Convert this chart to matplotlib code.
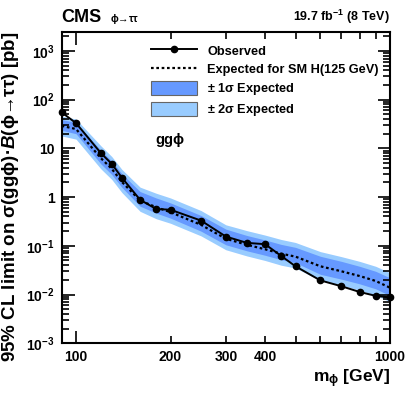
import matplotlib
matplotlib.use('Agg')
import matplotlib.pyplot as plt
from matplotlib.ticker import FixedLocator, FixedFormatter, LogLocator, NullFormatter
from matplotlib.patches import Patch
from matplotlib.lines import Line2D

plt.rcParams['font.family'] = ['Liberation Sans', 'DejaVu Sans']
plt.rcParams['font.weight'] = 'bold'
plt.rcParams['mathtext.fontset'] = 'custom'
plt.rcParams['mathtext.rm'] = 'Liberation Sans:bold'
plt.rcParams['mathtext.bf'] = 'Liberation Sans:bold'
plt.rcParams['mathtext.sf'] = 'Liberation Sans'
plt.rcParams['mathtext.it'] = 'Liberation Sans:italic'
plt.rcParams['mathtext.fallback'] = 'stixsans'

# mass points [GeV]
mass = [90, 100, 120, 130, 140, 160, 180, 200, 250, 300, 350, 400, 450, 500, 600, 700, 800, 900, 1000]
# observed limit [pb]
observed = [55, 33, 8.0, 4.8, 2.5, 0.88, 0.57, 0.55, 0.33, 0.155, 0.115, 0.108, 0.062, 0.038, 0.0195, 0.0148, 0.0113, 0.0094, 0.0087]
# expected median and bands [pb]
expected = [29, 25, 6.3, 3.8, 2.05, 0.85, 0.62, 0.49, 0.27, 0.14, 0.105, 0.085, 0.069, 0.060, 0.038, 0.030, 0.024, 0.019, 0.0138]
exp_p1 = [39, 34, 9.1, 5.5, 3.0, 1.3, 0.96, 0.76, 0.42, 0.22, 0.163, 0.132, 0.107, 0.093, 0.061, 0.048, 0.038, 0.030, 0.022]
exp_m1 = [23.5, 20, 4.8, 2.9, 1.58, 0.65, 0.47, 0.37, 0.20, 0.105, 0.079, 0.064, 0.052, 0.045, 0.026, 0.0207, 0.0166, 0.0131, 0.0095]
exp_p2 = [46, 40, 11.3, 6.8, 3.7, 1.6, 1.2, 0.96, 0.53, 0.27, 0.205, 0.166, 0.135, 0.117, 0.076, 0.060, 0.048, 0.038, 0.028]
exp_m2 = [18, 15.5, 3.8, 2.3, 1.24, 0.51, 0.36, 0.29, 0.16, 0.083, 0.062, 0.050, 0.040, 0.035, 0.0195, 0.0154, 0.0123, 0.0097, 0.0071]

dark = '#6699ff'
light = '#99ccff'

fig = plt.figure(figsize=(4.11, 3.95), dpi=100)
ax = fig.add_axes([0.150, 0.131, 0.799, 0.788])

ax.fill_between(mass, exp_m2, exp_p2, color=light, lw=0)
ax.fill_between(mass, exp_m1, exp_p1, color=dark, lw=0)
ax.plot(mass, expected, color='black', ls=(0, (1.2, 1.2)), lw=1.6)
ax.plot(mass, observed, color='black', lw=1.4, marker='o', ms=4.5, clip_on=False, zorder=5)

ax.set_xscale('log')
ax.set_yscale('log')
ax.set_xlim(90, 1000)
ax.set_ylim(1e-3, 2450)

ax.xaxis.set_major_locator(FixedLocator([100, 1000]))
ax.xaxis.set_major_formatter(FixedFormatter(['100', '1000']))
ax.xaxis.set_minor_locator(FixedLocator([200, 300, 400, 500, 600, 700, 800, 900]))
ax.xaxis.set_minor_formatter(FixedFormatter(['200', '300', '400', '', '', '', '', '']))

ax.yaxis.set_major_locator(FixedLocator([1e-3, 1e-2, 1e-1, 1, 10, 100, 1000]))
ax.yaxis.set_major_formatter(FixedFormatter([r'$10^{-3}$', r'$10^{-2}$', r'$10^{-1}$', '1', '10', r'$10^{2}$', r'$10^{3}$']))
ax.yaxis.set_minor_locator(LogLocator(base=10, subs=range(2, 10), numticks=20))
ax.yaxis.set_minor_formatter(NullFormatter())

ax.tick_params(which='both', direction='in', top=True, right=True, labelsize=10, width=1.2)
ax.tick_params(which='major', length=9, pad=5)
ax.tick_params(which='minor', length=5, pad=5)
for s in ax.spines.values():
    s.set_linewidth(1.5)

ax.set_xlabel(r'm$_{\mathsf{ϕ}}$ [GeV]', fontsize=12.5, fontweight='bold', loc='right', labelpad=2)
ax.set_ylabel(r'95% CL limit on $\mathsf{σ(ggϕ)·}\mathit{B}\mathsf{(ϕ→ττ)}$ [pb]',
              fontsize=13.5, fontweight='bold', loc='top', labelpad=4)

fig.text(0.150, 0.935, 'CMS', fontsize=13, fontweight='bold', ha='left', va='bottom')
fig.text(0.268, 0.935, r'$\mathsf{ϕ→ττ}$', fontsize=7.5, ha='left', va='bottom')
fig.text(0.949, 0.935, r'19.7 fb$^{-1}$ (8 TeV)', fontsize=9, fontweight='bold', ha='right', va='bottom')
ax.text(0.284, 0.653, r'gg$\mathsf{ϕ}$', fontsize=10.5, fontweight='bold', va='center', transform=ax.transAxes)

handles = [
    Line2D([], [], color='black', lw=1.4, marker='o', ms=4.5),
    Line2D([], [], color='black', ls=(0, (1.2, 1.2)), lw=1.6),
    Patch(facecolor=dark, edgecolor='#666666', lw=0.8),
    Patch(facecolor=light, edgecolor='#666666', lw=0.8),
]
labels = ['Observed', 'Expected for SM H(125 GeV)', r'$\mathsf{±}$ 1$\mathsf{σ}$ Expected', r'$\mathsf{±}$ 2$\mathsf{σ}$ Expected']
ax.legend(handles, labels, loc='upper right', frameon=False,
          handlelength=3.6, handleheight=1.3, labelspacing=0.35, borderaxespad=0.5,
          prop={'weight': 'bold', 'size': 9.2})

fig.savefig('out.png', dpi=100)
